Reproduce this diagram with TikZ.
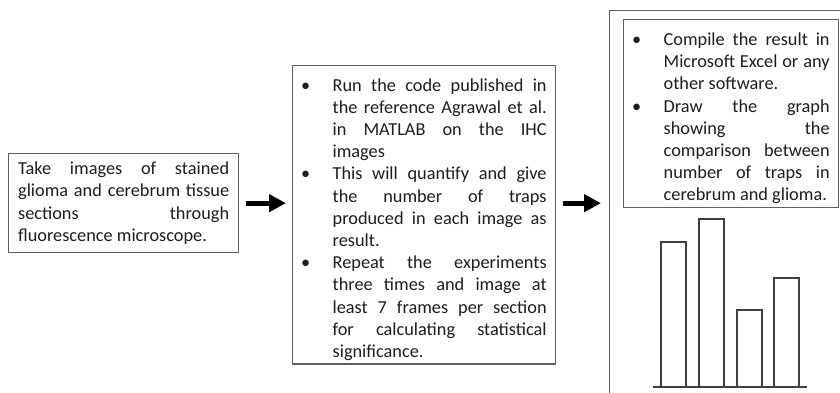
\documentclass[tikz,border=0pt]{standalone}
\usepackage{fontspec}
\setmainfont{Carlito}
\usetikzlibrary{arrows.meta}

\definecolor{boxgray}{RGB}{95,95,95}
\definecolor{inkgray}{RGB}{30,30,30}

% bulleted list used in the step boxes
\newenvironment{stepitems}{%
  \begin{list}{\textbullet}{%
    \setlength\leftmargin{40pt}\setlength\rightmargin{9pt}%
    \setlength\labelwidth{40pt}\setlength\labelsep{0pt}%
    \setlength\itemsep{0pt}\setlength\parsep{0pt}%
    \setlength\topsep{0pt}\setlength\partopsep{0pt}%
    \renewcommand\makelabel[1]{\hspace{8.5pt}##1\hfil}}}%
  {\end{list}}

\tikzset{
  stepbox/.style={draw=boxgray, line width=1.3pt, align=justify, text=inkgray,
    font=\fontsize{18.3}{22.2}\selectfont, anchor=north west},
  flowarrow/.style={line width=5pt, -{Triangle[length=17pt,width=17pt]}},
  chartline/.style={draw=black!75, line width=1.4pt}
}

\begin{document}
\begin{tikzpicture}[x=1pt,y=-1pt]
    \clip (0,0) rectangle (840,392);
    \fill[white] (0,0) rectangle (840,392);
    \hyphenpenalty=10000 \exhyphenpenalty=10000 \tolerance=10000
    % Step boxes
    \node[stepbox, text width=211pt, inner xsep=9.5pt, minimum height=99pt] (images) at (8,153)
      {Take images of stained\linebreak glioma and cerebrum tissue\linebreak sections through\linebreak fluorescence microscope.};
    \node[stepbox, text width=263pt, inner xsep=0pt, minimum height=297pt] (matlab) at (292,65)
      {\begin{stepitems}
       \item Run the code published in\linebreak the reference Agrawal et al.\linebreak in MATLAB on the IHC\linebreak images
       \item This will quantify and give\linebreak the number of traps\linebreak produced in each image as\linebreak result.
       \item Repeat the experiments\linebreak three times and image at\linebreak least 7 frames per section\linebreak for calculating statistical\linebreak significance.
       \end{stepitems}};
    \node[stepbox, minimum width=240pt, minimum height=400pt, inner sep=0pt] (result) at (609,10) {};
    \node[stepbox, text width=215pt, inner xsep=0pt, minimum height=188pt] (compile) at (623,19)
      {\begin{stepitems}
       \item Compile the result in\linebreak Microsoft Excel or any\linebreak other software.
       \item Draw the graph\linebreak showing the\linebreak comparison between\linebreak number of traps in\linebreak cerebrum and glioma.
       \end{stepitems}};
    % Arrows between the steps
    \draw[flowarrow] ([xshift=7pt]images.east) -- ([xshift=-6pt]images.east -| matlab.west);
    \draw[flowarrow] ([xshift=7pt]images.east -| matlab.east) -- ([xshift=-8pt]images.east -| result.west);
    % Bar chart
    \draw[chartline] (653,387) -- (807,387);
    \foreach \x/\top in {661/242, 699/219, 737/310, 774/278}
        \draw[chartline] (\x,387) |- (\x+25,\top) -- (\x+25,387);
\end{tikzpicture}
\end{document}
